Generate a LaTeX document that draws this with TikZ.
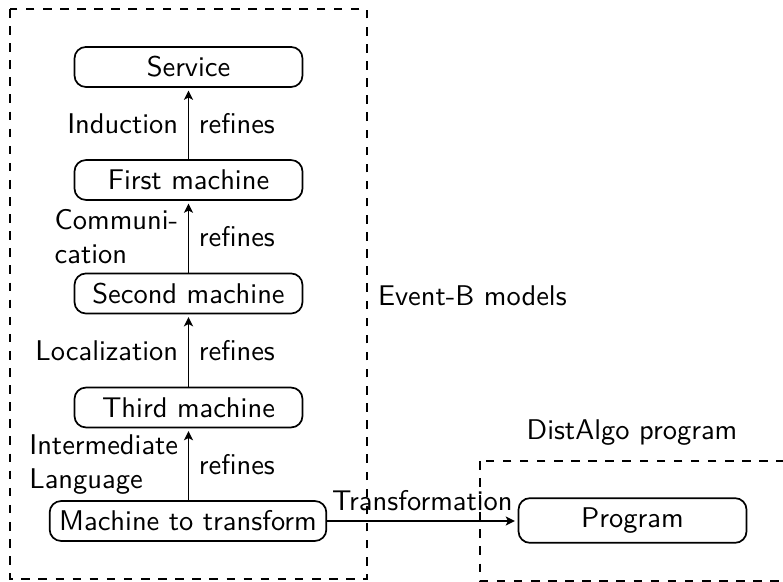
\documentclass[tikz,border=0pt]{standalone}
\usepackage{fontspec}
\usetikzlibrary{arrows.meta}
\begin{document}
\begin{tikzpicture}[x=0.3509pt,y=-0.3509pt,
  font=\sffamily,
  every node/.style={inner sep=3.333pt},
  machine/.style={draw,semithick,rounded corners=4pt,minimum width=80pt,minimum height=14pt},
  refine/.style={-{Stealth[length=3.2pt,width=3.2pt,inset=0.8pt]},semithick,shorten >=1pt},
  group/.style={draw,semithick,dashed}]
\useasboundingbox (0,0) rectangle (783,582);
% Event-B models group
\draw[group] (10,9) rectangle (367,579);
\node[anchor=west] (evb) at (368,296) {Event-B models};
% DistAlgo group
\draw[group] (480,461) rectangle (786,581);
\node (dal) at (632,433) {DistAlgo program};
% machines
\node[machine] (srv) at (188.5,67) {Service};
\node[machine] (m1) at (188.5,180) {First machine};
\node[machine] (m2) at (188.5,293.5) {Second machine};
\node[machine] (m3) at (188.5,407.5) {Third machine};
\node[draw,semithick,rounded corners=4pt,minimum height=14pt] (mt) at (188,521) {Machine to transform};
\node[machine] (prog) at (632.5,520.5) {Program};
% refinement arrows
\draw[refine] (m1) -- node[left] {Induction} node[right] {refines} (srv);
\draw[refine] (m2) -- node[left,align=left] {Communi-\\cation} node[right] {refines} (m1);
\draw[refine] (m3) -- node[left] {Localization} node[right] {refines} (m2);
\draw[refine] (mt.north -| m3) -- node[left,align=left] {Intermediate\\Language} node[right] {refines} (m3);
% transformation
\draw[refine] (mt.east) -- node[above] {Transformation} (mt.east -| prog.west);
\end{tikzpicture}
\end{document}
